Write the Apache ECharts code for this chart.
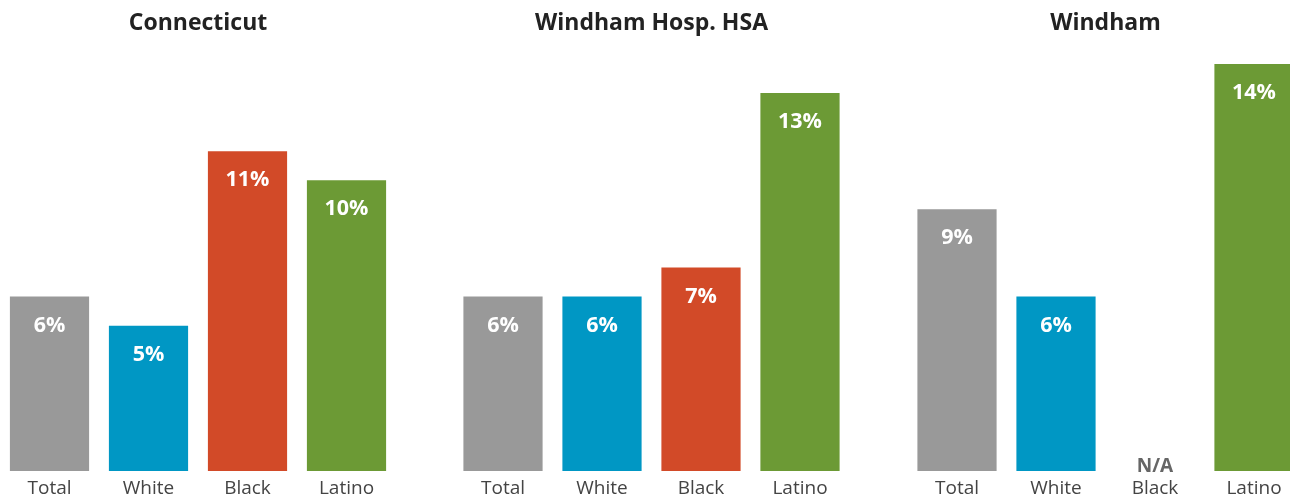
<!DOCTYPE html>
<html>
<head>
<meta charset="utf-8">
<script src="https://cdn.jsdelivr.net/npm/echarts@6/dist/echarts.min.js"></script>
<style>
html,body{margin:0;padding:0;background:#fff;overflow:hidden;width:1290px;height:502px;}
#chart{width:1310px;height:502px;}
</style>
</head>
<body>
<div id="chart"></div>
<script>
const panelTitles = ["Connecticut", "Windham Hosp. HSA", "Windham"];
const categories = ["Total", "White", "Black", "Latino"];
const connecticut = [6, 5, 11, 10];
const windhamHSA = [6, 6, 7, 13];
const windham = [9, 6, null, 14];
const barColors = ["#999999", "#0097c4", "#d24a28", "#6c9a35"];

const panels = [connecticut, windhamHSA, windham];
const lefts = [0, 453.5, 907.5];
const W = 396;
const CW = 1310;
const FONT = "'Open Sans', 'Noto Sans', sans-serif";

const chart = echarts.init(document.getElementById('chart'), null, {renderer: 'canvas'});
const option = {
  animation: false,
  backgroundColor: '#ffffff',
  title: panelTitles.map((t, i) => ({
    text: t,
    left: lefts[i] + W / 2 - 5,
    textAlign: 'center',
    top: 7,
    textStyle: {fontFamily: FONT, fontSize: 23, fontWeight: 'bold', color: '#222'}
  })),
  grid: lefts.map(l => ({left: l, right: CW - (l + W), top: 64, bottom: 31, containLabel: false})),
  xAxis: lefts.map((l, i) => ({
    type: 'category', gridIndex: i, data: categories,
    axisLine: {show: false}, axisTick: {show: false},
    axisLabel: {fontFamily: FONT, fontSize: 19, color: '#444', margin: 8}
  })),
  yAxis: lefts.map((l, i) => ({
    type: 'value', gridIndex: i, min: 0, max: 14, show: false
  })),
  series: panels.map((vals, i) => ({
    type: 'bar', xAxisIndex: i, yAxisIndex: i,
    barCategoryGap: '20%',
    data: vals.map((v, j) => v === null
      ? {value: 0, itemStyle: {color: 'transparent'},
         label: {show: true, position: 'top', distance: -5, formatter: 'N/A', color: '#666', fontSize: 19, fontWeight: 'bold', fontFamily: FONT}}
      : {value: v, itemStyle: {color: barColors[j]}}),
    label: {
      show: true, position: 'insideTop', distance: 18,
      formatter: p => p.value + '%',
      color: '#ffffff', fontSize: 21.5, fontWeight: 'bold', fontFamily: FONT
    }
  }))
};
chart.setOption(option);
</script>
</body>
</html>
